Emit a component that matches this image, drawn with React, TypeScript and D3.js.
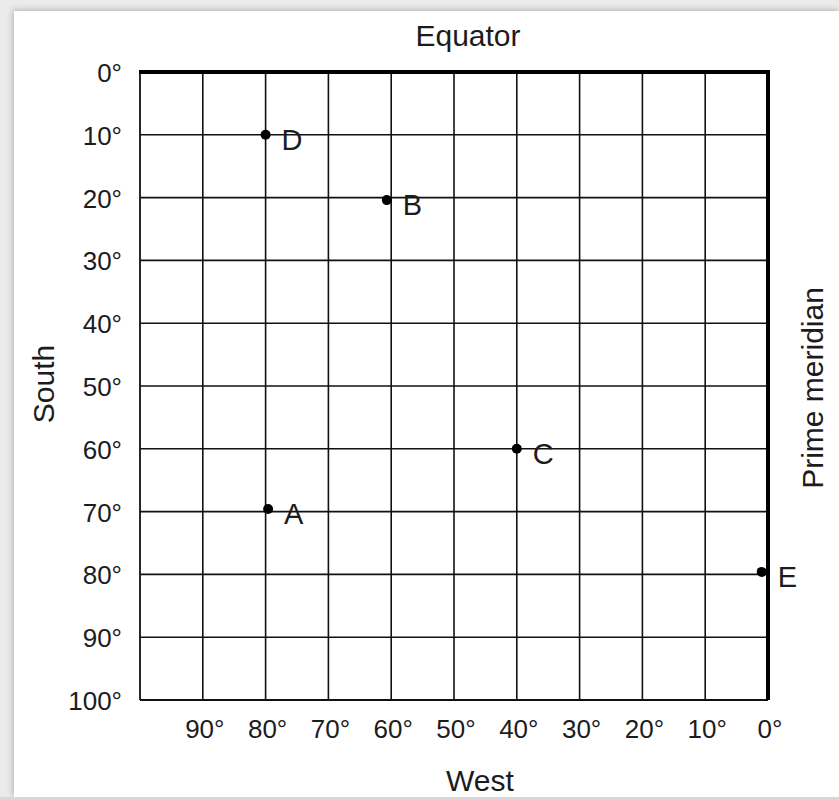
import React from "react";
import * as d3 from "d3";

const lonTicks = [90, 80, 70, 60, 50, 40, 30, 20, 10, 0];
const latTicks = [0, 10, 20, 30, 40, 50, 60, 70, 80, 90, 100];
const gridLon = [90, 80, 70, 60, 50, 40, 30, 20, 10];
const gridLat = [10, 20, 30, 40, 50, 60, 70, 80, 90];
const pointNames = ["D", "B", "C", "A", "E"];
const pointLon = [80, 60.7, 40, 79.6, 1.0];
const pointLat = [10, 20.4, 60, 69.6, 79.6];

const W = 839;
const H = 800;
const FONT = "'Liberation Sans', Arial, sans-serif";
const TXT = "#1c1c1c";

export default function App() {
  const x = d3.scaleLinear().domain([100, 0]).range([140, 768]);
  const y = d3.scaleLinear().domain([0, 100]).range([72, 700]);

  return (
    <div style={{ position: "absolute", left: 0, top: 0 }}>
      <svg width={W} height={H} style={{ display: "block" }}>
        <defs>
          <filter id="sh" x="-5%" y="-5%" width="110%" height="110%">
            <feDropShadow dx="-1" dy="-1" stdDeviation="3" floodColor="#000" floodOpacity="0.25" />
          </filter>
        </defs>
        <rect x={0} y={0} width={W} height={H} fill="#ebebeb" />
        <rect x={14} y={11} width={W - 14} height={786} fill="#fff" filter="url(#sh)" />
        <line x1={0} x2={W} y1={798.5} y2={798.5} stroke="#d8d8d8" strokeWidth={3} />

        {/* grid */}
        {gridLon.map((v) => (
          <line key={"gx" + v} x1={x(v)} x2={x(v)} y1={y(0)} y2={y(100)} stroke="#111" strokeWidth={1.6} />
        ))}
        {gridLat.map((v) => (
          <line key={"gy" + v} x1={x(100)} x2={x(0)} y1={y(v)} y2={y(v)} stroke="#111" strokeWidth={1.6} />
        ))}
        {/* borders */}
        <line x1={x(100)} x2={x(100)} y1={y(0)} y2={y(100)} stroke="#111" strokeWidth={1.8} />
        <line x1={x(100)} x2={x(0)} y1={y(100)} y2={y(100)} stroke="#111" strokeWidth={1.8} />
        <line x1={x(100) - 1} x2={x(0) + 2} y1={y(0)} y2={y(0)} stroke="#000" strokeWidth={4} />
        <line x1={x(0)} x2={x(0)} y1={y(0)} y2={y(100)} stroke="#000" strokeWidth={4} />

        {/* y tick labels */}
        {latTicks.map((v) => (
          <text key={"ly" + v} x={122} y={y(v) + 1} textAnchor="end" dominantBaseline="central"
            fontFamily={FONT} fontSize={26} fill={TXT}>{v + "°"}</text>
        ))}
        {/* x tick labels */}
        {lonTicks.map((v) => (
          <text key={"lx" + v} x={x(v) + 2} y={729} textAnchor="middle" dominantBaseline="central"
            fontFamily={FONT} fontSize={26} fill={TXT}>{v + "°"}</text>
        ))}

        {/* points */}
        {pointNames.map((n, i) => (
          <g key={n}>
            <circle cx={x(pointLon[i])} cy={y(pointLat[i])} r={5} fill="#000" />
            <text x={x(pointLon[i]) + 16} y={y(pointLat[i]) + 5} dominantBaseline="central"
              fontFamily={FONT} fontSize={29} fill={TXT}>{n}</text>
          </g>
        ))}

        {/* titles */}
        <text x={468} y={35} textAnchor="middle" dominantBaseline="central" fontFamily={FONT} fontSize={30} fill={TXT}>Equator</text>
        <text x={480} y={780} textAnchor="middle" dominantBaseline="central" fontFamily={FONT} fontSize={30} fill={TXT}>West</text>
        <text transform={`translate(43,384) rotate(-90)`} textAnchor="middle" dominantBaseline="central" fontFamily={FONT} fontSize={30} fill={TXT}>South</text>
        <text transform={`translate(812,388) rotate(-90)`} textAnchor="middle" dominantBaseline="central" fontFamily={FONT} fontSize={30} fill={TXT}>Prime meridian</text>
      </svg>
    </div>
  );
}
